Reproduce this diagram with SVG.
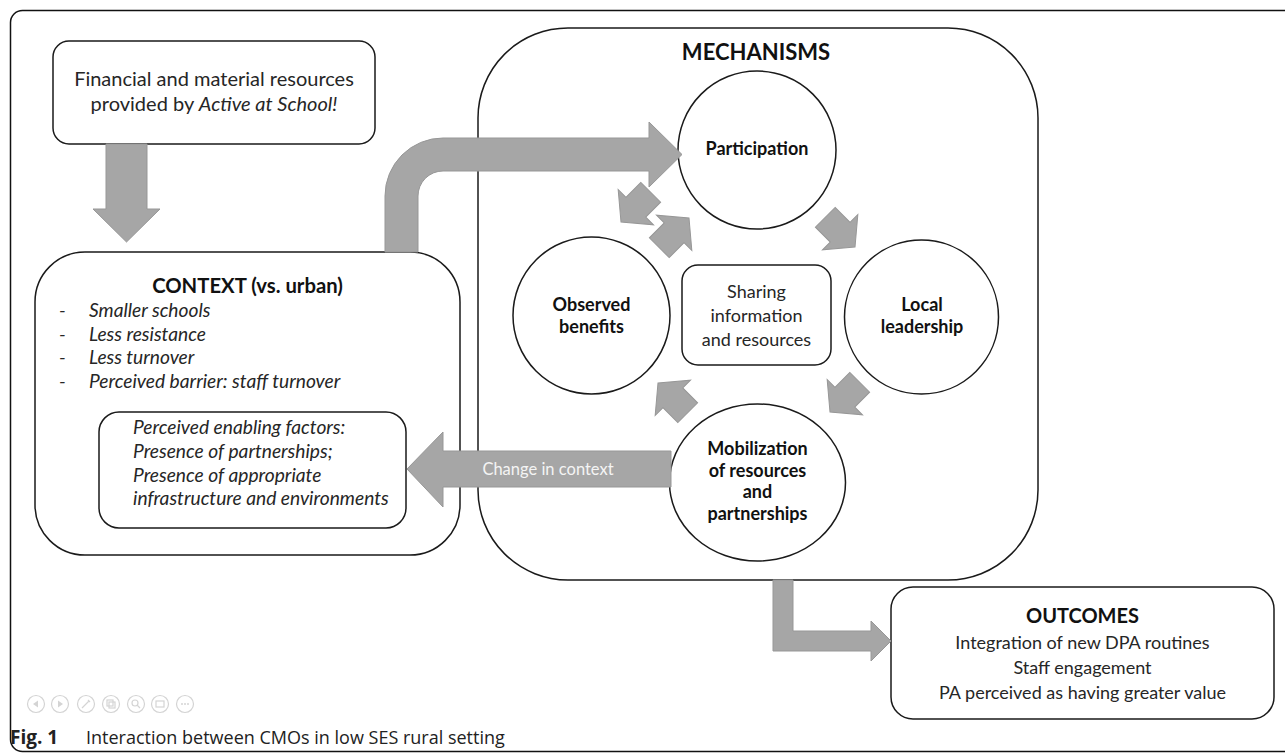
<svg xmlns="http://www.w3.org/2000/svg" width="1285" height="755" viewBox="0 0 1285 755">
<defs>
<style>
.box{fill:#fff;stroke:#1a1a1a;stroke-width:1.5}
.arr{fill:#a6a6a6;stroke:#979797;stroke-width:1}
.t{font-family:Lato,"Liberation Sans",sans-serif;fill:#262626;font-size:18px}
.b{font-weight:bold;fill:#111}
.it{font-style:italic;font-size:19.2px}
.c{text-anchor:middle}
.ic{fill:none;stroke:#d4d4d4;stroke-width:1.2}
.icf{fill:#d4d4d4}
.cap{font-family:"Open Sans","Liberation Sans",sans-serif;font-size:18px;fill:#222}
</style>
<path id="sa" d="M0 0 L-21 25 L-21 14 L-42 14 L-42 -14 L-21 -14 L-21 -25 Z"/>
</defs>
<rect width="1285" height="755" fill="#fff"/>
<rect x="10.5" y="10.5" width="1300" height="741" rx="12" fill="none" stroke="#111" stroke-width="1.5"/>

<g id="resources">
<rect class="box" x="53" y="41" width="322" height="103" rx="16"/>
<text class="t c" x="214" y="86" style="font-size:20px">Financial and material resources</text>
<text class="t c" x="214" y="111" style="font-size:20px">provided by <tspan font-style="italic">Active at School!</tspan></text>
</g>

<g id="context">
<rect class="box" x="35" y="252" width="425" height="303" rx="50"/>
<text class="t b c" x="247.5" y="293" style="font-size:20.3px">CONTEXT (vs. urban)</text>
<g class="t it">
<text x="59" y="317">-</text><text x="89" y="317">Smaller schools</text>
<text x="59" y="341">-</text><text x="89" y="341">Less resistance</text>
<text x="59" y="364">-</text><text x="89" y="364">Less turnover</text>
<text x="59" y="388">-</text><text x="89" y="388">Perceived barrier: staff turnover</text>
</g>
</g>

<g id="enabling">
<rect class="box" x="99" y="412" width="307" height="116" rx="20"/>
<g class="t it">
<text x="133" y="434">Perceived enabling factors:</text>
<text x="133" y="458">Presence of partnerships;</text>
<text x="133" y="482">Presence of appropriate</text>
<text x="133" y="505">infrastructure and environments</text>
</g>
</g>

<g id="mechanisms">
<rect class="box" x="478" y="28" width="560" height="552" rx="90"/>
<text class="t b c" x="756" y="60" style="font-size:22px">MECHANISMS</text>
</g>

<g id="participation">
<circle class="box" cx="757" cy="150" r="79"/>
<text class="t b c" x="757" y="155">Participation</text>
</g>

<g id="local">
<circle class="box" cx="921.5" cy="317" r="77"/>
<text class="t b c" x="922" y="311">Local</text>
<text class="t b c" x="922" y="333">leadership</text>
</g>

<g id="observed">
<circle class="box" cx="591.5" cy="315.5" r="78.5"/>
<text class="t b c" x="591.5" y="311">Observed</text>
<text class="t b c" x="591.5" y="333">benefits</text>
</g>

<g id="sharing">
<rect class="box" x="682" y="265" width="149" height="100" rx="16"/>
<text class="t c" x="756.5" y="298" fill="#3a3a3a">Sharing</text>
<text class="t c" x="756.5" y="322" fill="#3a3a3a">information</text>
<text class="t c" x="756.5" y="346" fill="#3a3a3a">and resources</text>
</g>

<g id="mobilization">
<ellipse class="box" cx="757.5" cy="482.5" rx="88" ry="78.5"/>
<text class="t b c" x="757.5" y="455">Mobilization</text>
<text class="t b c" x="757.5" y="477">of resources</text>
<text class="t b c" x="757.5" y="498">and</text>
<text class="t b c" x="757.5" y="520">partnerships</text>
</g>

<g id="outcomes">
<rect class="box" x="891" y="587" width="383" height="132" rx="22"/>
<text class="t b c" x="1082.5" y="623" style="font-size:20px">OUTCOMES</text>
<text class="t c" x="1082.5" y="649">Integration of new DPA routines</text>
<text class="t c" x="1082.5" y="674">Staff engagement</text>
<text class="t c" x="1082.5" y="699">PA perceived as having greater value</text>
</g>

<g id="connectors">
<path class="arr" d="M106 144 H147 V209 H160 L126.5 242 L93 209 H106 Z"/>
<path class="arr" d="M385 252 V196 A58 58 0 0 1 443 138 H649 V122 L682 154.5 L649 187 V171 H443 A25 25 0 0 0 418 196 V252 Z"/>
<path class="arr" d="M671 451 V487 H443 V507 L407 469 L443 432 V451 Z"/>
<text x="548" y="475" class="c" style="font-family:Lato,'Liberation Sans',sans-serif;font-size:16.5px;fill:#f4f4f4">Change in context</text>
<path class="arr" d="M773 580 V651 H871 V661 L891 641 L871 621 V631 H793 V580 Z"/>
<use href="#sa" class="arr" transform="translate(855 247) rotate(45)"/>
<use href="#sa" class="arr" transform="translate(621 222) rotate(135)"/>
<use href="#sa" class="arr" transform="translate(689 218) rotate(-45)"/>
<use href="#sa" class="arr" transform="translate(830 412) rotate(135)"/>
<use href="#sa" class="arr" transform="translate(658 383) rotate(-135)"/>
</g>

<g id="toolbar">
<circle class="ic" cx="36" cy="704" r="8.5"/><path class="icf" d="M33 704 L38 700.5 V707.5 Z"/>
<circle class="ic" cx="60" cy="704" r="8.5"/><path class="icf" d="M63 704 L58 700.5 V707.5 Z"/>
<circle class="ic" cx="86" cy="704" r="8.5"/><path class="ic" d="M82 708 L89 701 M88 700 L90 702"/>
<circle class="ic" cx="111" cy="704" r="8.5"/><rect class="ic" x="107" y="700" width="6" height="6"/><rect class="ic" x="109" y="702" width="6" height="6"/>
<circle class="ic" cx="136" cy="704" r="8.5"/><circle class="ic" cx="135" cy="703" r="3"/><path class="ic" d="M137 705 L140 708"/>
<circle class="ic" cx="160" cy="704" r="8.5"/><rect class="ic" x="156" y="701" width="8" height="6"/>
<circle class="ic" cx="185" cy="704" r="8.5"/><circle class="icf" cx="182" cy="704" r="1"/><circle class="icf" cx="185" cy="704" r="1"/><circle class="icf" cx="188" cy="704" r="1"/>
</g>

<g id="caption">
<text class="cap" x="10" y="744"><tspan font-weight="bold" font-size="19px">Fig. 1</tspan><tspan x="86">Interaction between CMOs in low SES rural setting</tspan></text>
</g>
</svg>
